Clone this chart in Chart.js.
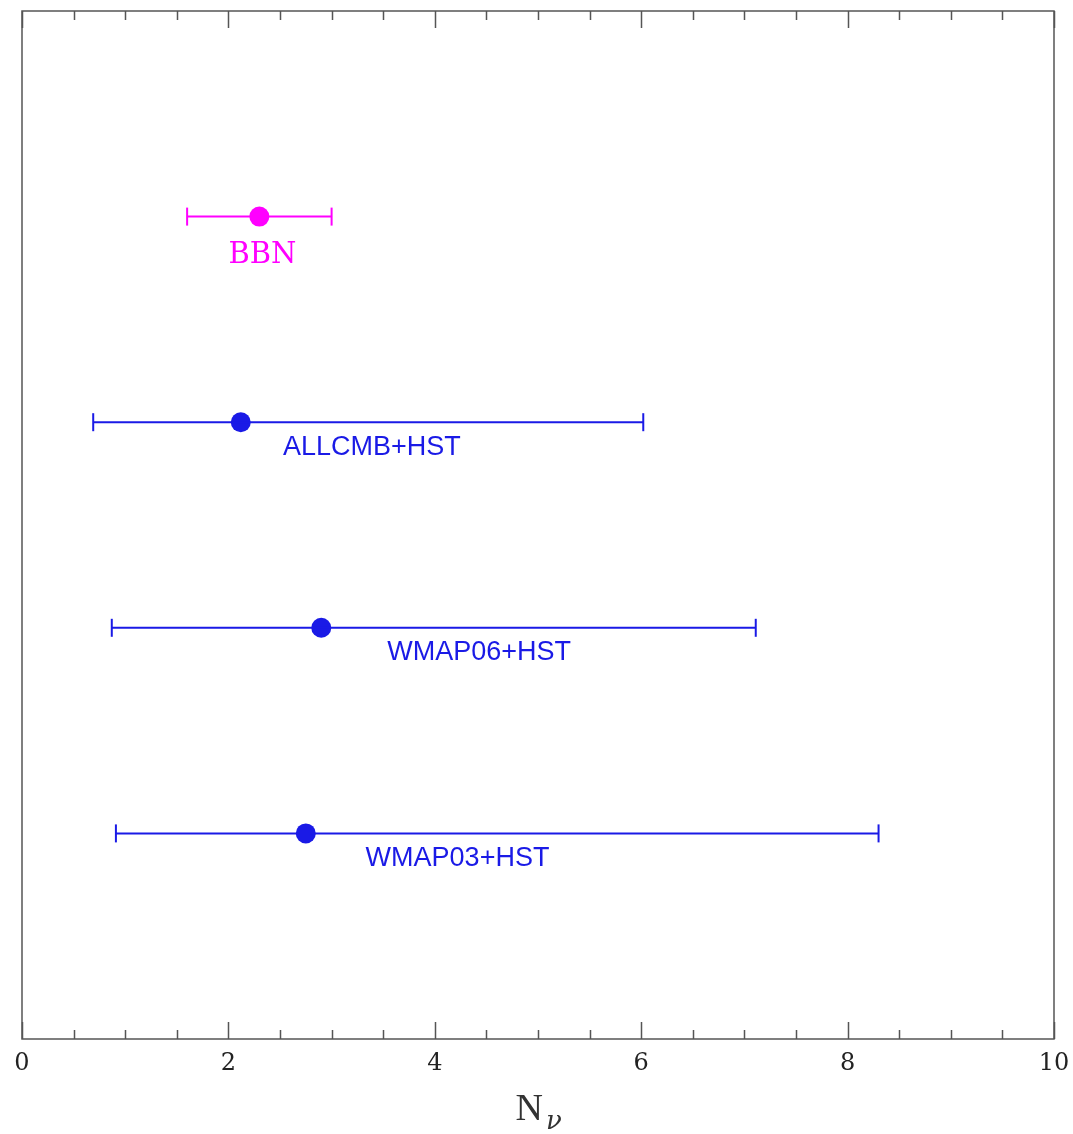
<!DOCTYPE html>
<html>
<head>
<meta charset="utf-8">
<script src="https://cdn.jsdelivr.net/npm/chart.js@4"></script>
<style>
  html, body { margin: 0; padding: 0; background: #fff; }
  #wrap { width: 1073px; height: 1134px; }
</style>
</head>
<body>
<div id="wrap"><canvas id="chart" width="1073" height="1134"></canvas></div>
<script>
const names = ['BBN', 'ALLCMB+HST', 'WMAP06+HST', 'WMAP03+HST'];
const centres = [2.30, 2.12, 2.90, 2.75];
const lower = [1.60, 0.69, 0.87, 0.91];
const upper = [3.00, 6.02, 7.11, 8.30];
const rows = [0.8, 0.6, 0.4, 0.2];
// where each name sits along N_nu
const nameAt = [2.33, 3.39, 4.43, 4.22];
const xTicks = [0, 2, 4, 6, 8, 10];

// styles
const colours = ['#ff00ff', '#1a1ae6', '#1a1ae6', '#1a1ae6'];
const nameFonts = ['29px "DejaVu Serif"', '27px "Liberation Sans"', '27px "Liberation Sans"', '27px "Liberation Sans"'];
const nameDy = [39, 25, 25, 25];
const frameColour = '#555';

const datasets = [];
names.forEach((n, i) => {
  datasets.push({
    type: 'line',
    label: n + ' range',
    data: [{ x: lower[i], y: rows[i] }, { x: upper[i], y: rows[i] }],
    borderColor: colours[i],
    borderWidth: 2,
    pointStyle: 'line',
    rotation: 90,
    pointRadius: 9,
    pointBorderWidth: 2,
    pointBorderColor: colours[i],
  });
});
datasets.push({
  label: 'centres',
  data: centres.map((c, i) => ({ x: c, y: rows[i] })),
  pointRadius: 10,
  pointBackgroundColor: colours,
  pointBorderColor: colours,
  pointBorderWidth: 0,
});

const frame = {
  id: 'frame',
  afterDraw(chart) {
    const { ctx, chartArea: a, scales } = chart;
    const x = scales.x;
    ctx.save();
    ctx.strokeStyle = frameColour;
    ctx.lineWidth = 1.5;
    ctx.strokeRect(a.left, a.top, a.right - a.left, a.bottom - a.top);
    // inward ticks, top and bottom
    for (let v = 0; v <= 10; v += 0.5) {
      const px = Math.round(x.getPixelForValue(v)) + 0.5;
      const len = xTicks.includes(v) ? 17 : 9;
      ctx.beginPath();
      ctx.moveTo(px, a.bottom); ctx.lineTo(px, a.bottom - len);
      ctx.moveTo(px, a.top); ctx.lineTo(px, a.top + len);
      ctx.stroke();
    }
    // tick labels
    ctx.fillStyle = '#222';
    ctx.font = '24px "DejaVu Serif"';
    ctx.textAlign = 'center';
    ctx.textBaseline = 'middle';
    xTicks.forEach(v => ctx.fillText(String(v), x.getPixelForValue(v), a.bottom + 25));
    // names under each bar
    names.forEach((n, i) => {
      ctx.fillStyle = colours[i];
      ctx.font = nameFonts[i];
      ctx.fillText(n, x.getPixelForValue(nameAt[i]), scales.y.getPixelForValue(rows[i]) + nameDy[i]);
    });
    // axis title N_nu
    const cx = (a.left + a.right) / 2;
    ctx.fillStyle = '#333';
    ctx.textBaseline = 'alphabetic';
    ctx.textAlign = 'right';
    ctx.font = '38px "Liberation Serif"';
    ctx.fillText('N', cx + 5, 1120);
    ctx.textAlign = 'left';
    ctx.font = 'italic 26px "DejaVu Serif"';
    ctx.fillText('\u03bd', cx + 8, 1129);
    ctx.restore();
  }
};

new Chart(document.getElementById('chart').getContext('2d'), {
  type: 'scatter',
  data: { datasets },
  options: {
    responsive: false,
    animation: false,
    layout: { padding: { left: 22, right: 19, top: 8, bottom: 95 } },
    plugins: { legend: { display: false }, tooltip: { enabled: false } },
    scales: {
      x: { type: 'linear', display: false, min: 0, max: 10 },
      y: { type: 'linear', display: false, min: 0, max: 1 },
    },
  },
  plugins: [frame],
});
</script>
</body>
</html>
